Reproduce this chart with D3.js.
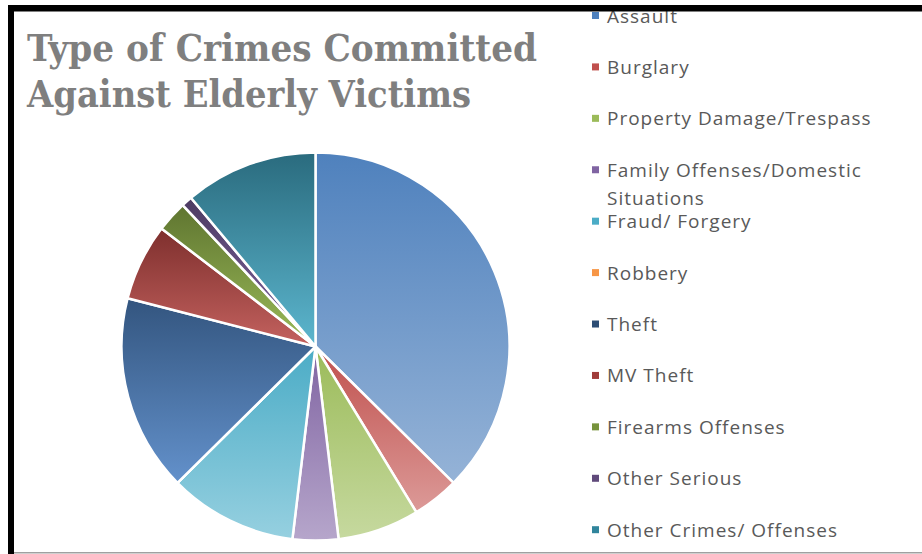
<!DOCTYPE html>
<html>
<head>
<meta charset="utf-8">
<script src="https://cdn.jsdelivr.net/npm/d3@7"></script>
<style>
  body { margin: 0; background: #fff; }
  svg { display: block; }
</style>
</head>
<body>
<div id="chart"></div>
<script>
var width = 922;
var height = 554;

// crime categories and their share (%)
var categories = ['Assault', 'Burglary', 'Property Damage/Trespass',
  'Family Offenses/Domestic Situations', 'Fraud/ Forgery', 'Robbery', 'Theft',
  'MV Theft', 'Firearms Offenses', 'Other Serious', 'Other Crimes/ Offenses'];
var shares = [37.4, 3.9, 6.8, 3.8, 10.7, 0, 16.4, 6.4, 2.6, 0.9, 11.1];

// legend lines (Family label wraps onto two lines)
var legendLines = [['Assault'], ['Burglary'], ['Property Damage/Trespass'],
  ['Family Offenses/Domestic', 'Situations'], ['Fraud/ Forgery'], ['Robbery'],
  ['Theft'], ['MV Theft'], ['Firearms Offenses'], ['Other Serious'],
  ['Other Crimes/ Offenses']];

var titleLines = ['Type of Crimes Committed', 'Against Elderly Victims'];

// gradient stops: top colour, bottom colour
var topColors = ['#4f81bd', '#c0504d', '#9bbb59', '#8064a2', '#4bacc6', '#f79646',
  '#33557f', '#7e2f2d', '#5f7530', '#4d3b62', '#2a6b7e'];
var bottomColors = ['#95b3d7', '#dc9a98', '#c6d99f', '#b6a6cb', '#96d0e0', '#fac090',
  '#6391cb', '#c4625f', '#9bbb59', '#8064a2', '#5cb6ce'];
var legendColors = ['#4f81bd', '#c0504d', '#9bbb59', '#8064a2', '#4bacc6', '#f79646',
  '#2c4d75', '#a03c3a', '#77933c', '#604a7b', '#31859c'];

var svg = d3.select('#chart').append('svg')
    .attr('width', width)
    .attr('height', height);

var defs = svg.append('defs');
categories.forEach(function (c, i) {
  var g = defs.append('linearGradient')
      .attr('id', 'grad' + i)
      .attr('x1', 0).attr('y1', 0).attr('x2', 0).attr('y2', 1);
  g.append('stop').attr('offset', '0%').attr('stop-color', topColors[i]);
  g.append('stop').attr('offset', '100%').attr('stop-color', bottomColors[i]);
});

svg.append('rect').attr('width', width).attr('height', height).attr('fill', '#fff');

// pie
var cx = 315.5, cy = 346.5, radius = 194;

var pie = d3.pie().sort(null).value(function (d) { return d; });
var arc = d3.arc().innerRadius(0).outerRadius(radius);

var slices = svg.append('g')
    .attr('transform', 'translate(' + cx + ',' + cy + ')')
    .selectAll('path')
    .data(pie(shares))
    .enter()
    .append('path')
    .attr('d', arc)
    .attr('fill', function (d, i) { return 'url(#grad' + i + ')'; })
    .attr('stroke', '#fff')
    .attr('stroke-width', 2.5)
    .attr('stroke-linejoin', 'round');

// title
var title = svg.append('g')
    .attr('font-family', 'DejaVu Serif Condensed, DejaVu Serif, serif')
    .attr('font-weight', 'bold')
    .attr('font-size', 38)
    .attr('fill', '#7f7f7f');

title.append('text').attr('x', 27).attr('y', 61)
    .attr('textLength', 510).attr('lengthAdjust', 'spacingAndGlyphs')
    .text(titleLines[0]);
title.append('text').attr('x', 27).attr('y', 107)
    .attr('textLength', 444).attr('lengthAdjust', 'spacingAndGlyphs')
    .text(titleLines[1]);

// legend
var legendY = d3.scalePoint().domain(d3.range(categories.length)).range([22.5, 536.7]);

var legend = svg.append('g')
    .attr('font-family', 'Open Sans, sans-serif')
    .attr('font-size', 19)
    .attr('letter-spacing', 1)
    .attr('fill', '#595959');

var items = legend.selectAll('g')
    .data(legendLines)
    .enter()
    .append('g')
    .attr('transform', function (d, i) { return 'translate(592,' + legendY(i) + ')'; });

items.append('rect')
    .attr('x', 0).attr('y', -10.5)
    .attr('width', 7).attr('height', 7)
    .attr('fill', function (d, i) { return legendColors[i]; });

items.each(function (lines) {
  var t = d3.select(this).append('text').attr('x', 15).attr('y', 0);
  lines.forEach(function (l, k) {
    t.append('tspan').attr('x', 15).attr('dy', k === 0 ? 0 : 28).text(l);
  });
});

// frame
svg.append('rect').attr('x', 8).attr('y', 5).attr('width', width - 8).attr('height', 6.5).attr('fill', '#000');
svg.append('rect').attr('x', 8).attr('y', 5).attr('width', 6).attr('height', height - 5).attr('fill', '#000');
svg.append('rect').attr('x', 14).attr('y', 552).attr('width', width - 14).attr('height', 1.5).attr('fill', '#a0a0a0');
</script>
</body>
</html>
